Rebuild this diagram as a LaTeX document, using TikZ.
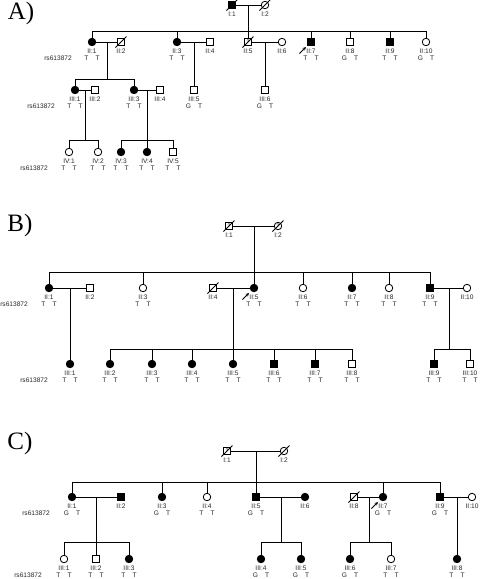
\documentclass[tikz,border=0pt]{standalone}
\usepackage{fontspec}
\setmainfont{Liberation Serif}
\newfontfamily\arialf{Liberation Sans}
\usetikzlibrary{calc,arrows.meta}

\tikzset{
  rel/.style={line width=0.8pt, draw=black},
  base/.style={draw=black, line width=0.8pt, inner sep=0pt, minimum size=7.5pt},
  m/.style={base, rectangle},
  f/.style={base, circle},
  aff/.style={fill=black},
  q/.style={path picture={\node[font=\arialf\fontsize{5}{5}\selectfont, inner sep=0pt] at (path picture bounding box.center) {?};}},
  lbl/.style={font=\arialf\fontsize{6.6}{7}\selectfont, inner sep=0pt, text=black!85},
  head/.style={font=\fontsize{25}{25}\selectfont, inner sep=0pt},
}

\newcommand\pers[7]{%
  \node[#2] (#1) at (#3,#4) {};
  \node[lbl] (#1l) at (#3,#4+9.5) {#5};
  \if\relax\detokenize{#6}\relax\else
    \node[lbl] (#1g) at (#3,#4+16.3) {#6\hspace{7.2pt}#7};
  \fi}
\newcommand\dec[1]{\draw[rel] ($(#1)+(-5.5,5.5)$) -- ($(#1)+(5.5,-5.5)$);}
\newcommand\prb[1]{\draw[rel,-{Stealth[length=3.4pt,width=3.2pt]}] ($(#1)+(-11.5,11.5)$) -- ($(#1)+(-5,5)$);}

\begin{document}
\begin{tikzpicture}[x=1pt,y=-1pt]
\useasboundingbox (0,0) rectangle (480,579);

% ================= Panel A =================
\node[head] (ah) at (21,13) {A)};
\pers{a11}{m,aff}{232}{5}{I:1}{}{}
\pers{a12}{f}{265}{5}{I:2}{}{}
\dec{a11}\dec{a12}
\draw[rel] (a11) -- (a12);
\coordinate (am1) at (248,5); \coordinate (as1) at (248,31);
\draw[rel] (am1) -- (as1);

\pers{a21}{f,aff}{92}{42}{II:1}{T}{T}
\pers{a22}{m}{121}{42}{II:2}{}{}
\pers{a23}{f,aff}{177}{42}{II:3}{T}{T}
\pers{a24}{m}{210}{42}{II:4}{}{}
\pers{a25}{m,q}{248}{42}{II:5}{}{}
\pers{a26}{f}{282}{42}{II:6}{}{}
\pers{a27}{m,aff}{311}{42}{II:7}{T}{T}
\pers{a28}{m}{350}{42}{II:8}{G}{T}
\pers{a29}{m,aff}{390}{42}{II:9}{T}{T}
\pers{a210}{f}{426}{42}{II:10}{G}{T}
\dec{a22}\dec{a25}\prb{a27}
\node[lbl,anchor=east] (ars1) at (72,58.3) {rs613872};
\draw[rel] (a21 |- as1) -- (a210 |- as1);
\foreach \c in {a21,a23,a25,a27,a28,a29,a210} \draw[rel] (\c) -- (\c |- as1);
\draw[rel] (a21) -- (a22);
\draw[rel] (a23) -- (a24);
\draw[rel] (a25) -- (a26);
\coordinate (am2) at (107,42); \coordinate (as2) at (107,79);
\coordinate (am3) at (194,42);
\coordinate (am4) at (265,42);
\draw[rel] (am2) -- (as2);

\pers{a31}{f,aff}{75}{90}{III:1}{T}{T}
\pers{a32}{m}{95}{90}{III:2}{}{}
\pers{a33}{f,aff}{134}{90}{III:3}{T}{T}
\pers{a34}{m}{160}{90}{III:4}{}{}
\pers{a35}{m}{194}{90}{III:5}{G}{T}
\pers{a36}{m}{265}{90}{III:6}{G}{T}
\node[lbl,anchor=east] (ars2) at (55,106.3) {rs613872};
\draw[rel] (am3) -- (a35);
\draw[rel] (am4) -- (a36);
\draw[rel] (a31 |- as2) -- (a33 |- as2);
\foreach \c in {a31,a33} \draw[rel] (\c) -- (\c |- as2);
\draw[rel] (a31) -- (a32);
\draw[rel] (a33) -- (a34);
\coordinate (am5) at (85,90); \coordinate (as5) at (85,140);
\coordinate (am6) at (147,90); \coordinate (as6) at (147,140);
\draw[rel] (am5) -- (as5);
\draw[rel] (am6) -- (as6);

\pers{a41}{f}{69}{152}{IV:1}{T}{T}
\pers{a42}{f}{98}{152}{IV:2}{T}{T}
\pers{a43}{f,aff}{121}{152}{IV:3}{T}{T}
\pers{a44}{f,aff}{147}{152}{IV:4}{T}{T}
\pers{a45}{m}{173}{152}{IV:5}{T}{T}
\node[lbl,anchor=east] (ars3) at (48,168.3) {rs613872};
\draw[rel] (a41 |- as5) -- (a42 |- as5);
\foreach \c in {a41,a42} \draw[rel] (\c) -- (\c |- as5);
\draw[rel] (a43 |- as6) -- (a45 |- as6);
\foreach \c in {a43,a44,a45} \draw[rel] (\c) -- (\c |- as6);

% ================= Panel B =================
\node[head] (bh) at (20,225) {B)};
\pers{b11}{m,q}{229}{226}{I:1}{}{}
\pers{b12}{f,q}{278}{226}{I:2}{}{}
\dec{b11}\dec{b12}
\draw[rel] (b11) -- (b12);
\coordinate (bm1) at (254,226); \coordinate (bs1) at (254,272);
\draw[rel] (bm1) -- (bs1);

\pers{b21}{f,aff}{49}{288}{II:1}{T}{T}
\pers{b22}{m}{90}{288}{II:2}{}{}
\pers{b23}{f}{143}{288}{II:3}{T}{T}
\pers{b24}{m}{213}{288}{II:4}{}{}
\pers{b25}{f,aff}{254}{288}{II:5}{T}{T}
\pers{b26}{f}{303}{288}{II:6}{T}{T}
\pers{b27}{f,aff}{352}{288}{II:7}{T}{T}
\pers{b28}{f}{389}{288}{II:8}{T}{T}
\pers{b29}{m,aff}{430}{288}{II:9}{T}{T}
\pers{b210}{f}{467}{288}{II:10}{}{}
\dec{b24}\prb{b25}
\node[lbl,anchor=east] (brs1) at (28,304.3) {rs613872};
\draw[rel] (b21 |- bs1) -- (b29 |- bs1);
\foreach \c in {b21,b23,b25,b26,b27,b28,b29} \draw[rel] (\c) -- (\c |- bs1);
\draw[rel] (b21) -- (b22);
\draw[rel] (b24) -- (b25);
\draw[rel] (b29) -- (b210);
\coordinate (bm2) at (70,288);
\coordinate (bm3) at (233,288); \coordinate (bs3) at (233,349);
\coordinate (bm4) at (449,288); \coordinate (bs4) at (449,349);
\draw[rel] (bm3) -- (bs3);
\draw[rel] (bm4) -- (bs4);

\pers{b31}{f,aff}{70}{364}{III:1}{T}{T}
\pers{b32}{f,aff}{110}{364}{III:2}{T}{T}
\pers{b33}{f,aff}{152}{364}{III:3}{T}{T}
\pers{b34}{f,aff}{192}{364}{III:4}{T}{T}
\pers{b35}{f,aff}{233}{364}{III:5}{T}{T}
\pers{b36}{m,aff}{274}{364}{III:6}{T}{T}
\pers{b37}{m,aff}{315}{364}{III:7}{T}{T}
\pers{b38}{m}{352}{364}{III:8}{T}{T}
\pers{b39}{m,aff}{434}{364}{III:9}{T}{T}
\pers{b310}{m}{470}{364}{III:10}{T}{T}
\node[lbl,anchor=east] (brs2) at (48,380.3) {rs613872};
\draw[rel] (bm2) -- (b31);
\draw[rel] (b32 |- bs3) -- (b38 |- bs3);
\foreach \c in {b32,b33,b34,b35,b36,b37,b38} \draw[rel] (\c) -- (\c |- bs3);
\draw[rel] (b39 |- bs4) -- (b310 |- bs4);
\foreach \c in {b39,b310} \draw[rel] (\c) -- (\c |- bs4);

% ================= Panel C =================
\node[head] (ch) at (20,443) {C)};
\pers{c11}{m,q}{227}{451}{I:1}{}{}
\pers{c12}{f}{284}{451}{I:2}{}{}
\dec{c11}\dec{c12}
\draw[rel] (c11) -- (c12);
\coordinate (cm1) at (256,451); \coordinate (cs1) at (256,482);
\draw[rel] (cm1) -- (cs1);

\pers{c21}{f,aff}{72}{497}{II:1}{G}{T}
\pers{c22}{m,aff}{121}{497}{II:2}{}{}
\pers{c23}{f,aff}{162}{497}{II:3}{G}{T}
\pers{c24}{f}{207}{497}{II:4}{T}{T}
\pers{c25}{m,aff}{256}{497}{II:5}{G}{T}
\pers{c26}{f,aff}{305}{497}{II:6}{}{}
\pers{c28}{m}{354}{497}{II:8}{}{}
\pers{c27}{f,aff}{383}{497}{II:7}{G}{T}
\pers{c29}{m,aff}{440}{497}{II:9}{G}{T}
\pers{c210}{f}{472}{497}{II:10}{}{}
\dec{c28}\prb{c27}
\node[lbl,anchor=east] (crs1) at (50,513.3) {rs613872};
\draw[rel] (c21 |- cs1) -- (c29 |- cs1);
\foreach \c in {c21,c23,c24,c25,c27,c29} \draw[rel] (\c) -- (\c |- cs1);
\draw[rel] (c21) -- (c22);
\draw[rel] (c25) -- (c26);
\draw[rel] (c28) -- (c27);
\draw[rel] (c29) -- (c210);
\coordinate (cm2) at (96,497); \coordinate (cs2) at (96,542);
\coordinate (cm3) at (281,497); \coordinate (cs3) at (281,542);
\coordinate (cm4) at (369,497); \coordinate (cs4) at (369,542);
\coordinate (cm5) at (457,497);
\draw[rel] (cm2) -- (cs2);
\draw[rel] (cm3) -- (cs3);
\draw[rel] (cm4) -- (cs4);

\pers{c31}{f}{64}{559}{III:1}{T}{T}
\pers{c32}{m}{96}{559}{III:2}{T}{T}
\pers{c33}{f,aff}{129}{559}{III:3}{T}{T}
\pers{c34}{f,aff}{261}{559}{III:4}{G}{T}
\pers{c35}{f,aff}{301}{559}{III:5}{G}{T}
\pers{c36}{f,aff}{350}{559}{III:6}{G}{T}
\pers{c37}{f}{391}{559}{III:7}{T}{T}
\pers{c38}{f,aff}{457}{559}{III:8}{T}{T}
\node[lbl,anchor=east] (crs2) at (42,575.3) {rs613872};
\draw[rel] (c31 |- cs2) -- (c33 |- cs2);
\foreach \c in {c31,c32,c33} \draw[rel] (\c) -- (\c |- cs2);
\draw[rel] (c34 |- cs3) -- (c35 |- cs3);
\foreach \c in {c34,c35} \draw[rel] (\c) -- (\c |- cs3);
\draw[rel] (c36 |- cs4) -- (c37 |- cs4);
\foreach \c in {c36,c37} \draw[rel] (\c) -- (\c |- cs4);
\draw[rel] (cm5) -- (c38);
\end{tikzpicture}
\end{document}
